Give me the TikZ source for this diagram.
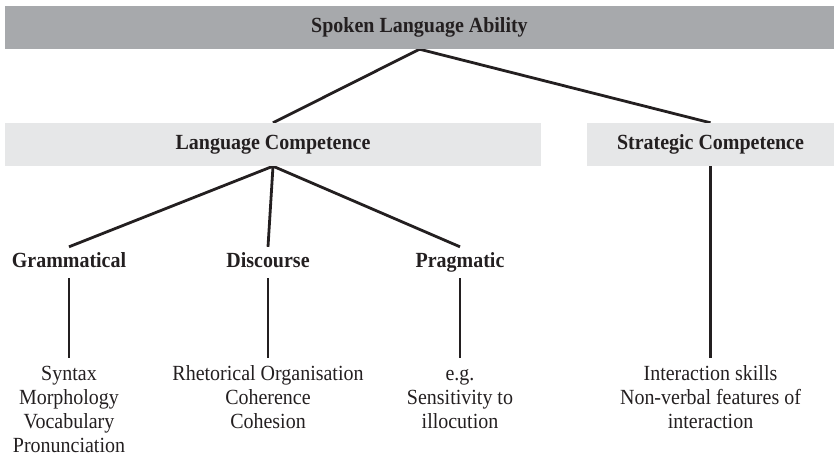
\documentclass[tikz,border=0pt]{standalone}
\usepackage{fontspec}
\setmainfont{Liberation Serif}[FakeStretch=0.925]
\usetikzlibrary{backgrounds}
\definecolor{ink}{HTML}{231F20}
\definecolor{bargray}{HTML}{A7A9AC}
\definecolor{boxgray}{HTML}{E6E7E8}
\begin{document}
\begin{tikzpicture}[x=1pt,y=-1pt,
  every node/.style={text=ink, font=\fontsize{21.6}{24}\selectfont},
  headbar/.style={fill=bargray, minimum width=829pt, minimum height=43pt, inner sep=0pt,
    font=\fontsize{21.6}{24}\selectfont\bfseries},
  compbox/.style={fill=boxgray, minimum height=43pt, inner sep=0pt,
    font=\fontsize{21.6}{24}\selectfont\bfseries},
  sublabel/.style={anchor=base, font=\fontsize{21.6}{24}\selectfont\bfseries,
    text height=14pt, text depth=5pt, inner xsep=0pt, inner ysep=6pt},
  itemlist/.style={anchor=north, align=center, inner xsep=0pt, inner ysep=5.5pt},
  link/.style={draw=ink, line width=2.8pt, line join=miter},
]
\useasboundingbox (0,0) rectangle (834,456);

% top level
\node[headbar] (sla) at (419.5,27.5) {Spoken Language Ability};

% second level
\node[compbox, minimum width=536pt] (lc) at (273,144.5) {Language Competence};
\node[compbox, minimum width=247pt] (sc) at (710.5,144.5) {Strategic Competence};

% components of language competence
\node[sublabel] (gram) at (69,267) {Grammatical};
\node[sublabel] (disc) at (268,267) {Discourse};
\node[sublabel] (prag) at (460,267) {Pragmatic};

% examples
\node[itemlist] (gramlist) at (69,358) {\strut Syntax\\Morphology\\Vocabulary\\Pronunciation};
\node[itemlist] (disclist) at (268,358) {\strut Rhetorical Organisation\\Coherence\\Cohesion};
\node[itemlist] (praglist) at (460,358) {\strut e.g.\\Sensitivity to\\illocution};
\node[itemlist] (sclist) at (710.5,358) {\strut Interaction skills\\Non-verbal features of\\interaction};

% connectors
\begin{scope}[on background layer]
  \draw[link] (lc.north) -- (sla.south) -- (sc.north);
  \draw[link] (lc.south) -- (gram.north);
  \draw[link] (lc.south) -- (disc.north);
  \draw[link] (lc.south) -- (prag.north);
\end{scope}
\draw[link] (gram.south) -- (gramlist.north);
\draw[link] (disc.south) -- (disclist.north);
\draw[link] (prag.south) -- (praglist.north);
\draw[link] (sc.south) -- (sclist.north);
\end{tikzpicture}
\end{document}
